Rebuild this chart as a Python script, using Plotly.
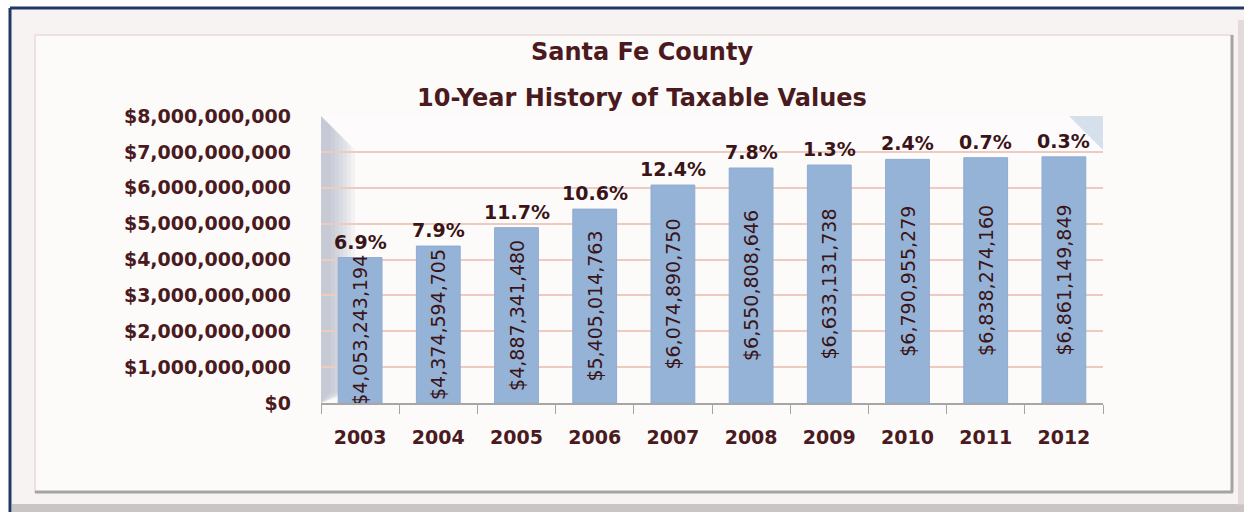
"""
Santa Fe County – 10-year taxable value history (bar chart)
"""
import plotly.graph_objects as go

YEARS = ["2003", "2004", "2005", "2006", "2007", "2008", "2009", "2010", "2011", "2012"]
TAXABLE = [4053243194, 4374594705, 4887341480, 5405014763, 6074890750,
           6550808646, 6633131738, 6790955279, 6838274160, 6861149849]
PCT_CHANGE = ["6.9%", "7.9%", "11.7%", "10.6%", "12.4%", "7.8%", "1.3%", "2.4%", "0.7%", "0.3%"]
Y_TICKS = [0, 1e9, 2e9, 3e9, 4e9, 5e9, 6e9, 7e9, 8e9]

MAROON = "#4a1a1e"
TXT = "#3a1416"
BAR = "#95b3d7"
W, H = 1244, 512
L, R, T, B = 321, 1103, 116, 403      # plot area in pixels


def px(x):  # pixel -> paper x
    return (x - L) / (R - L)


def py(y):  # pixel -> paper y
    return (B - y) / (B - T)


fig = go.Figure()

# ── Bars with the dollar value written sideways inside ─────────────────
fig.add_trace(go.Bar(
    x=YEARS, y=TAXABLE,
    marker=dict(color=BAR, line=dict(color="#8eacd2", width=1)),
    width=0.56,
    text=[f"${v:,.0f}" for v in TAXABLE],
    textposition="inside",
    insidetextanchor="middle",
    textangle=-90,
    constraintext="none",
    textfont=dict(family="DejaVu Sans, sans-serif", size=19, color=TXT),
    hoverinfo="skip",
))

# ── Year-over-year change above each bar (x = category index) ──────────
for i, (val, pct) in enumerate(zip(TAXABLE, PCT_CHANGE)):
    fig.add_annotation(
        x=i, y=val, text=f"<b>{pct}</b>", showarrow=False,
        yanchor="bottom", yshift=3,
        font=dict(family="DejaVu Sans, sans-serif", size=19, color=TXT),
    )

# ── Frame / panel decoration ───────────────────────────────────────────
shapes = [
    # page background inside the navy frame
    dict(type="rect", xref="paper", yref="paper", x0=px(10), x1=px(1244), y0=py(512), y1=py(8),
         fillcolor="#f7f3f3", line=dict(width=0), layer="below"),
    # bottom/right shadow of outer frame
    dict(type="rect", xref="paper", yref="paper", x0=px(12), x1=px(1244), y0=py(512), y1=py(504),
         fillcolor="#9c9898", opacity=0.5, line=dict(width=0), layer="below"),
    dict(type="rect", xref="paper", yref="paper", x0=px(1238), x1=px(1244), y0=py(505), y1=py(20),
         fillcolor="#d8d0d0", opacity=0.7, line=dict(width=0), layer="below"),
    # outer navy edges
    dict(type="line", xref="paper", yref="paper", x0=px(10), x1=px(1244), y0=py(8), y1=py(8),
         line=dict(color="#1f3a64", width=3), layer="below"),
    dict(type="line", xref="paper", yref="paper", x0=px(10), x1=px(10), y0=py(8), y1=py(512),
         line=dict(color="#1f3a64", width=3), layer="below"),
    # inner panel (bevel: light top-left, grey bottom-right)
    dict(type="rect", xref="paper", yref="paper", x0=px(35), x1=px(1232), y0=py(492), y1=py(35),
         fillcolor="#fdfbfa", line=dict(color="#ece2e2", width=2), layer="below"),
    dict(type="line", xref="paper", yref="paper", x0=px(1232), x1=px(1232), y0=py(492), y1=py(35),
         line=dict(color="#a8a3a3", width=3), layer="below"),
    dict(type="line", xref="paper", yref="paper", x0=px(35), x1=px(1233), y0=py(492), y1=py(492),
         line=dict(color="#a8a3a3", width=3), layer="below"),
]
# back wall: white fading into blue at the top
for i in range(12):
    shapes.append(dict(type="rect", xref="paper", yref="paper", x0=0, x1=1,
                       y0=py(T + 3.5 * (i + 1)), y1=1,
                       fillcolor="white", opacity=0.18, line=dict(width=0), layer="below"))
# top-right corner of the wall (no white fade past the diagonal)
shapes.append(dict(type="path", xref="paper", yref="paper",
                   path=f"M {px(R - 34)} 1 L 1 1 L 1 {py(T + 34)} Z",
                   fillcolor="#d6e0ec", opacity=1, line=dict(width=0), layer="below"))
# left side wall (perspective strip with a diagonal top)
for i in range(7):
    d = 34 - 4 * i
    shapes.append(dict(
        type="path", xref="paper", yref="paper",
        path=f"M 0 1 L {px(L + d)} {py(T + d)} L {px(L + d)} {py(B - 12)} L 0 0 Z",
        fillcolor="#8c9db4", opacity=0.09, line=dict(width=0), layer="below"))
fig.update_layout(shapes=shapes)

# ── Title ──────────────────────────────────────────────────────────────
for txt, ypix in [("Santa Fe County", 52), ("10-Year History of Taxable Values", 98)]:
    fig.add_annotation(
        text=f"<b>{txt}</b>", xref="paper", yref="paper",
        x=px(642), y=py(ypix),
        showarrow=False, xanchor="center", yanchor="middle",
        font=dict(family="DejaVu Sans, sans-serif", size=24, color=MAROON),
    )

fig.update_layout(
    width=W, height=H,
    margin=dict(l=L, r=W - R, t=T, b=H - B),
    paper_bgcolor="white",
    plot_bgcolor="#d8e2ee",
    showlegend=False,
    bargap=0.44,
    font=dict(family="DejaVu Sans, sans-serif", color=MAROON),
)
fig.update_xaxes(
    type="category",
    showline=True, linecolor="#a6a6a6", linewidth=1.5,
    ticks="outside", tickson="boundaries", ticklen=9, tickcolor="#a6a6a6",
    tickfont=dict(size=19, color=MAROON, weight="bold"),
    ticklabelstandoff=16,
    showgrid=False,
)
fig.update_yaxes(
    range=[0, 8e9],
    tickvals=Y_TICKS,
    tickformat="$,.0f",
    tickfont=dict(size=19, color=MAROON, weight="bold"),
    ticklabelstandoff=29,
    showgrid=True, gridcolor="#efcbbf", gridwidth=1.5,
    zeroline=False, showline=False, ticks="",
)

fig.write_html("out.html", post_script="document.body.style.margin='0';",
               config={"displayModeBar": False})
